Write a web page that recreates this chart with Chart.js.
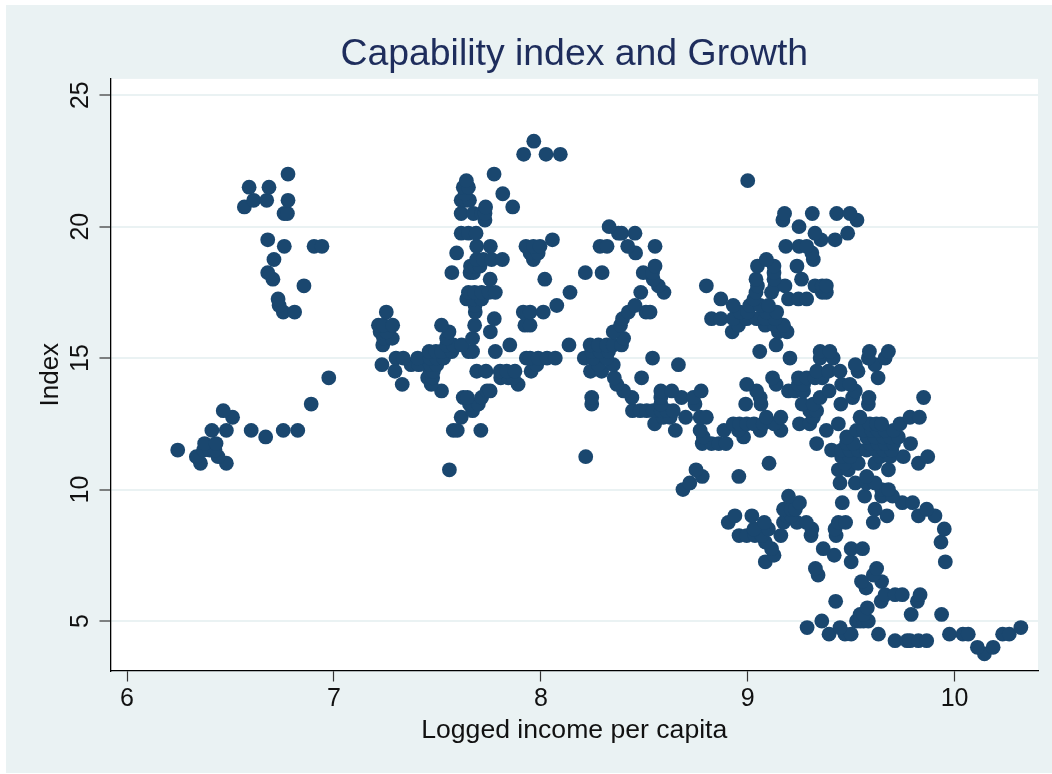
<!DOCTYPE html>
<html>
<head>
<meta charset="utf-8">
<title>Capability index and Growth</title>
<script src="https://cdn.jsdelivr.net/npm/chart.js@4"></script>
<style>
html,body{margin:0;padding:0;background:#fff;overflow:hidden}
#bg{position:absolute;left:6px;top:5px;width:1046px;height:768px;background:#eaf2f3}
canvas{position:absolute;left:0;top:0}
</style>
</head>
<body>
<div id="bg"></div>
<canvas id="c" width="1052" height="774"></canvas>
<script>
const titleText = "Capability index and Growth";
const xTitle = "Logged income per capita";
const yTitle = "Index";
const xTicks = [6,7,8,9,10];
const yTicks = [5,10,15,20,25];
const indexLevels = [3.75,4,4.25,4.5,4.75,5,5.25,5.5,5.75,6,6.25,6.5,6.75,7,7.25,7.5,7.75,8,8.25,8.5,8.75,9,9.25,9.5,9.75,10,10.25,10.5,10.75,11,11.25,11.5,11.75,12,12.25,12.5,12.75,13,13.25,13.5,13.75,14,14.25,14.5,14.75,15,15.25,15.5,15.75,16,16.25,16.5,16.75,17,17.25,17.5,17.75,18,18.25,18.5,18.75,19,19.25,19.5,19.75,20,20.25,20.5,20.75,21,21.25,21.5,21.75,22,22.75,23.25];
const incomeAtLevel = [
[10.144],
[10.11,10.186],
[9.712,9.77,9.785,9.825,9.865],
[9.393,9.47,9.5,9.632,9.975,10.04,10.066,10.232,10.264],
[9.287,9.446,10.32],
[9.358,9.526,9.543,9.56,9.583],
[9.543,9.56,9.79,9.937],
[9.578],
[9.425,9.645,9.82],
[9.664,9.712,9.747,9.833],
[9.572],
[9.55,9.647],
[9.34,9.607],
[9.327,9.623],
[9.085,9.5,9.955],
[9.127,9.418],
[9.115,9.365,9.5,9.555],
[9.085,9.934],
[8.958,8.995,9.035,9.068,9.16,9.306,9.427],
[9.03,9.1,9.31,9.422,9.95],
[8.906,9.08,9.173,9.238,9.283,9.438,9.473,9.607],
[8.938,9.02,9.19,9.21,9.673,9.825,9.905],
[9.173,9.21,9.23,9.615,9.865],
[9.25,9.457,9.747,9.797],
[9.197,9.565,9.647,9.7],
[8.687,9.647,9.68],
[8.72,9.446,9.52,9.575,9.615],
[8.78,8.957,9.575],
[7.558,8.75,9.438,9.486,9.68],
[6.355,6.48,9.103,9.47,9.534,9.615,9.825],
[6.335,6.44,8.217,9.454,9.494,9.64,9.688,9.752,9.87],
[6.245,6.37,6.4,6.425,9.405,9.454,9.494,9.534,9.575,9.622,9.656,9.696],
[6.375,6.43,8.78,8.825,8.86,8.895,9.333,9.478,9.51,9.59,9.63,9.664,9.705,9.787],
[6.67,8.785,8.98,9.478,9.575,9.615,9.656,9.688,9.728],
[6.41,6.48,6.6,6.755,6.825,7.577,7.596,7.71,8.65,8.77,8.885,8.955,9.06,9.16,9.38,9.526,9.56,9.6,9.63,9.664,9.705],
[8.55,8.93,8.96,8.995,9.03,9.075,9.127,9.25,9.3,9.438,9.59,9.622,9.647,9.736],
[6.51,7.615,8.592,8.625,8.7,8.77,8.8,9.09,9.16,9.317,9.543,9.784,9.83],
[6.465,7.67,8.443,8.48,8.512,8.543,8.582,8.61,8.64,9.3,9.333],
[6.89,7.655,7.698,8.246,8.58,8.745,8.99,9.064,9.263,9.317,9.45,9.583],
[7.625,7.645,7.714,8.246,8.44,8.58,8.68,8.737,9.06,9.35,9.507,9.586,9.85],
[7.52,7.74,7.755,8.4,8.58,8.633,8.775,9.043,9.197,9.23,9.27,9.393,9.52],
[7.33,7.47,7.89,8.367,8.995,9.137,9.245,9.27,9.454,9.494],
[6.975,7.453,7.477,7.806,7.843,7.867,8.355,8.487,9.12,9.245,9.285,9.325,9.36,9.63],
[7.295,7.465,7.48,7.69,7.735,7.803,7.835,7.875,7.953,8.24,8.294,9.333,9.39,9.446,9.533],
[7.232,7.373,7.41,7.465,7.497,7.98,8.278,8.35,8.665,9.52,9.615],
[7.3,7.335,7.405,7.465,7.497,7.53,7.93,7.948,7.987,8.03,8.07,8.21,8.254,8.318,8.54,9.204,9.35,9.413,9.583,9.664],
[7.46,7.493,7.52,7.57,7.65,7.67,7.78,8.246,8.286,8.327,9.058,9.35,9.397,9.588,9.68],
[7.236,7.545,7.577,7.617,7.85,8.136,8.238,8.278,8.318,8.35,8.39,9.137],
[7.24,7.282,7.545,7.67,8.4],
[7.223,7.255,7.556,7.756,8.35,8.925,9.148,9.19],
[7.215,7.24,7.284,7.52,7.68,7.923,7.948,8.385,8.955,9.084,9.13,9.173],
[7.775,8.395,8.825,8.87,8.93,8.995,9.043,9.084,9.132],
[6.755,6.81,7.253,7.683,7.915,7.948,8.012,8.423,8.508,8.528,8.963,9.0,9.09,9.14],
[6.735,7.682,8.077,8.455,8.93,9.01,9.06,9.1],
[6.73,7.642,7.674,7.714,8.87,9.03,9.197,9.245,9.285],
[7.65,7.68,7.714,7.75,7.78,8.141,8.483,8.595,9.04,9.115,9.36,9.38],
[6.855,8.568,8.8,9.047,9.132,9.18,9.325,9.36,9.38],
[6.705,7.755,8.019,8.543,9.04,9.127,9.26],
[6.68,7.57,7.658,7.674,8.215,8.296,8.495,8.54,9.127],
[7.66,7.682,7.706,8.552,9.047,9.127,9.238],
[6.71,7.69,7.722,7.762,7.814,7.964,9.09,9.317],
[7.593,7.948,7.987,8.458,9.31],
[6.76,6.904,6.942,7.69,7.756,7.928,7.964,7.996,8.286,8.32,8.42,8.552,9.184,9.248,9.285],
[6.68,8.056,9.354,9.422],
[7.615,7.65,7.687,8.375,8.39,8.455,9.325,9.483],
[8.33,9.248],
[7.73,9.17,9.528],
[6.759,6.775,7.615,7.674,7.714,7.73,9.178,9.312,9.43,9.494],
[6.567,7.733,7.864],
[6.612,6.675,6.778,7.615,7.635,7.655],
[7.634,7.816],
[6.59,6.686,7.625,7.65],
[7.64,9],
[6.778,7.774],
[7.917,8.025,8.094],
[7.966]
];
const points = [];
indexLevels.forEach((level, i) => {
  incomeAtLevel[i].forEach(income => points.push({x: income, y: level}));
});

const plotBackground = {
  id: 'plotBackground',
  beforeDraw(chart) {
    const a = chart.chartArea, c = chart.ctx;
    c.save();
    c.fillStyle = '#ffffff';
    c.fillRect(a.left, a.top, a.right - a.left, a.bottom - a.top);
    c.restore();
  }
};

new Chart(document.getElementById('c'), {
  type: 'scatter',
  data: { datasets: [{
    data: points,
    backgroundColor: '#1a476f',
    borderWidth: 0,
    pointRadius: 7.4,
    pointHoverRadius: 7.4
  }]},
  plugins: [plotBackground],
  options: {
    responsive: false,
    animation: false,
    devicePixelRatio: 1,
    layout: { padding: { left: 0, right: 14, top: 32, bottom: 0 } },
    plugins: {
      legend: { display: false },
      tooltip: { enabled: false },
      title: {
        display: true,
        fullSize: false,
        text: titleText,
        color: '#1e2d5c',
        font: { family: 'Liberation Sans', size: 37.4, weight: 'normal' },
        padding: { top: 0, bottom: 2 }
      }
    },
    scales: {
      x: {
        type: 'linear',
        min: 5.92,
        max: 10.403,
        afterFit(s) { s.height = 103.5; },
        afterBuildTicks(s) { s.ticks = xTicks.map(v => ({ value: v })); },
        grid: { drawOnChartArea: false, drawTicks: true, tickLength: 11, tickColor: '#333', tickWidth: 1.2 },
        border: { color: '#000', width: 1.3 },
        ticks: { color: '#111', autoSkip: false, maxRotation: 0, padding: 3,
                 font: { family: 'Liberation Sans', size: 25 } },
        title: { display: true, text: xTitle, color: '#111', padding: { top: 2, bottom: 27 },
                 font: { family: 'Liberation Sans', size: 26.6 } }
      },
      y: {
        type: 'linear',
        min: 3.117,
        max: 25.62,
        afterFit(s) { s.width = 110.5; },
        afterBuildTicks(s) { s.ticks = yTicks.map(v => ({ value: v })); },
        grid: { color: '#eaf2f3', lineWidth: 2, drawTicks: true, tickLength: 11, tickColor: '#333', tickWidth: 1.2 },
        border: { color: '#000', width: 1.3 },
        ticks: { color: '#111', autoSkip: false, minRotation: 90, maxRotation: 90, crossAlign: 'center', padding: 4,
                 font: { family: 'Liberation Sans', size: 25 } },
        title: { display: true, text: yTitle, color: '#111', padding: { top: 35.5, bottom: 0 },
                 font: { family: 'Liberation Sans', size: 26 } }
      }
    }
  }
});
</script>
</body>
</html>
